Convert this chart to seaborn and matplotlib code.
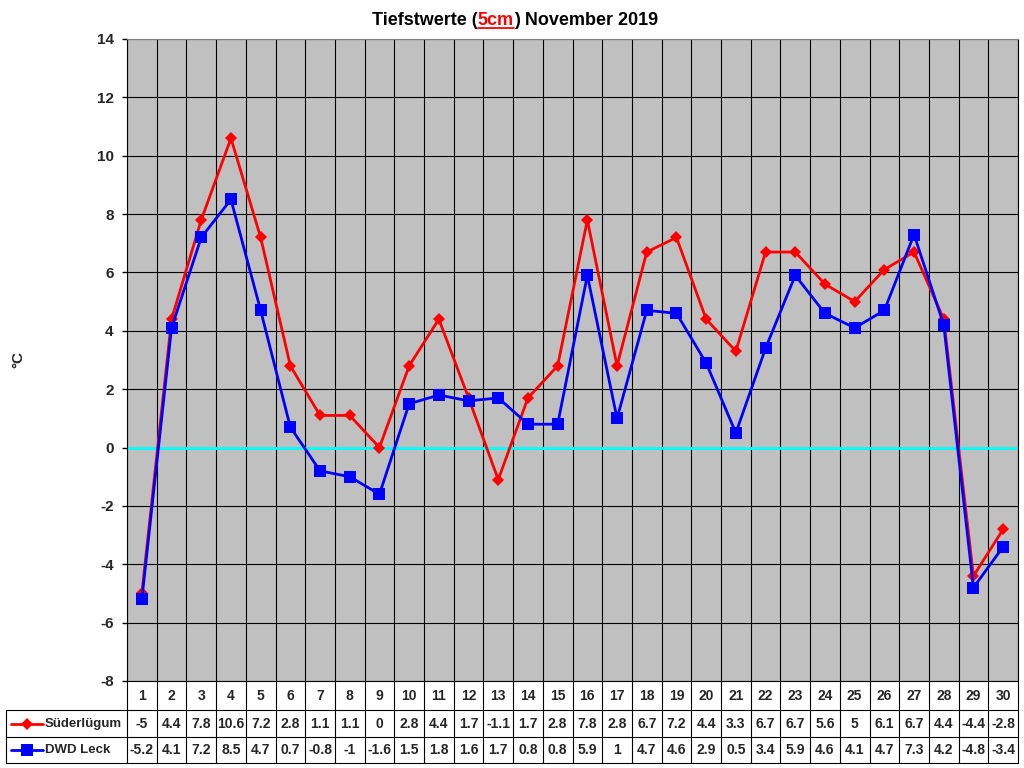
import numpy as np
import pandas as pd
import matplotlib
matplotlib.use("Agg")
import matplotlib.pyplot as plt
import seaborn as sns
from matplotlib.lines import Line2D

# ---------------- data ----------------
days = list(range(1, 31))
suederluegum = [-5, 4.4, 7.8, 10.6, 7.2, 2.8, 1.1, 1.1, 0, 2.8, 4.4, 1.7, -1.1, 1.7, 2.8,
                7.8, 2.8, 6.7, 7.2, 4.4, 3.3, 6.7, 6.7, 5.6, 5, 6.1, 6.7, 4.4, -4.4, -2.8]
dwd_leck = [-5.2, 4.1, 7.2, 8.5, 4.7, 0.7, -0.8, -1, -1.6, 1.5, 1.8, 1.6, 1.7, 0.8, 0.8,
            5.9, 1, 4.7, 4.6, 2.9, 0.5, 3.4, 5.9, 4.6, 4.1, 4.7, 7.3, 4.2, -4.8, -3.4]
series_names = ["Süderlügum", "DWD Leck"]
yticks = list(range(-8, 15, 2))

colors = {"Süderlügum": "#FF0000", "DWD Leck": "#0000FF"}
markers = {"Süderlügum": "D", "DWD Leck": "s"}

sns.set_theme(style="white")
plt.rcParams['font.family'] = ['Liberation Sans', 'DejaVu Sans']

W, H = 1024, 768
fig = plt.figure(figsize=(W / 100, H / 100), dpi=100)
L, R, T, B = 127, 1018, 39, 681
ax = fig.add_axes([L / W, 1 - B / H, (R - L) / W, (B - T) / H])
ax.set_facecolor('#C0C0C0')

n = len(days)
df = pd.DataFrame({
    "idx": np.tile(np.arange(n), 2),
    "value": suederluegum + dwd_leck,
    "series": np.repeat(series_names, n),
})

# zero line
ax.axhline(0, color='#00FFFF', lw=2, zorder=1.5)

sns.lineplot(data=df, x="idx", y="value", hue="series", style="series",
             markers=markers, dashes=False, palette=colors, linewidth=2,
             legend=False, ax=ax, zorder=3)
sizes = {"Süderlügum": 6.5, "DWD Leck": 8}
for line, name in zip(ax.lines[-2:], series_names):
    line.set_markersize(sizes[name])
    line.set_markeredgewidth(0)

ax.set_xlim(-0.5, n - 0.5)
ax.set_ylim(-8, 14)
ax.set_xticks(range(n))
ax.set_xticks(np.arange(-0.5, n, 1), minor=True)
ax.set_yticks(yticks)
ax.set_yticklabels([str(v) for v in yticks], fontsize=11, fontweight='bold')
ax.tick_params(axis='x', which='both', length=0, labelbottom=False)
ax.tick_params(axis='y', which='major', length=3.6, width=1, color='black', direction='out', pad=6, left=True)
ax.grid(False)
ax.xaxis.grid(True, which='minor', color='black', lw=0.8)
ax.yaxis.grid(True, which='major', color='black', lw=0.8)
ax.set_axisbelow(True)
ax.set_xlabel('')
ax.set_ylabel('')
for s in ax.spines.values():
    s.set_color('black')
    s.set_linewidth(0.8)
ax.spines['top'].set_color('#808080')

fig.text(18 / W, 1 - 360 / H, '°C', rotation=90, fontsize=11, fontweight='bold',
         ha='center', va='center')

# ---------------- table ----------------
ph = B - T
trans = ax.get_xaxis_transform()
rows_px = [0, 29, 56, 82]
rf = [-r / ph for r in rows_px]
for xb in np.arange(-0.5, n, 1):
    ax.add_line(Line2D([xb, xb], [rf[0], rf[3]], transform=trans, color='black', lw=0.8, clip_on=False))
for r in rows_px[1:]:
    fig.add_artist(Line2D([6 / W, R / W], [1 - (B + r) / H] * 2, color='black', lw=0.8))
fig.add_artist(Line2D([6 / W, 6 / W], [1 - (B + rows_px[1]) / H, 1 - (B + rows_px[3]) / H],
                      color='black', lw=0.8))

mids = [(rows_px[k] + rows_px[k + 1]) / 2 for k in range(3)]
for i, d in enumerate(days):
    ax.text(i, -mids[0] / ph, str(d), transform=trans, ha='center', va='center',
            fontsize=10, fontweight='bold', clip_on=False)
    for vals, mid in ((suederluegum, mids[1]), (dwd_leck, mids[2])):
        ax.text(i, -mid / ph, f"{vals[i]:g}", transform=trans, ha='center', va='center',
                fontsize=10, fontweight='bold', clip_on=False)

for name, mid in zip(series_names, mids[1:]):
    yf = 1 - (B + mid) / H
    fig.add_artist(Line2D([11 / W, 43 / W], [yf, yf], color=colors[name], lw=2))
    fig.add_artist(Line2D([27 / W], [yf], color=colors[name], marker=markers[name],
                          markersize=sizes[name], markeredgewidth=0, lw=0))
    fig.text(45 / W, yf, name, ha='left', va='center', fontsize=9.5, fontweight='bold')

# ---------------- title ----------------
parts = [("Tiefstwerte (", 'black'), ("5cm", '#FF0000'), (") November 2019", 'black')]
ybase = 1 - 25 / H
texts = [fig.text(0, ybase, p, color=c, fontsize=13, fontweight='bold', ha='left', va='baseline')
         for p, c in parts]
fig.canvas.draw()
rend = fig.canvas.get_renderer()
widths = [t.get_window_extent(rend).width for t in texts]
total = sum(widths)
x = 515 - total / 2
for t, w in zip(texts, widths):
    t.set_x(x / W)
    x += w
ext = texts[1].get_window_extent(rend)
fig.add_artist(Line2D([ext.x0 / W, ext.x1 / W], [ybase - 3 / H] * 2, color='#FF0000', lw=1.3))

fig.savefig("out.png", dpi=100)
